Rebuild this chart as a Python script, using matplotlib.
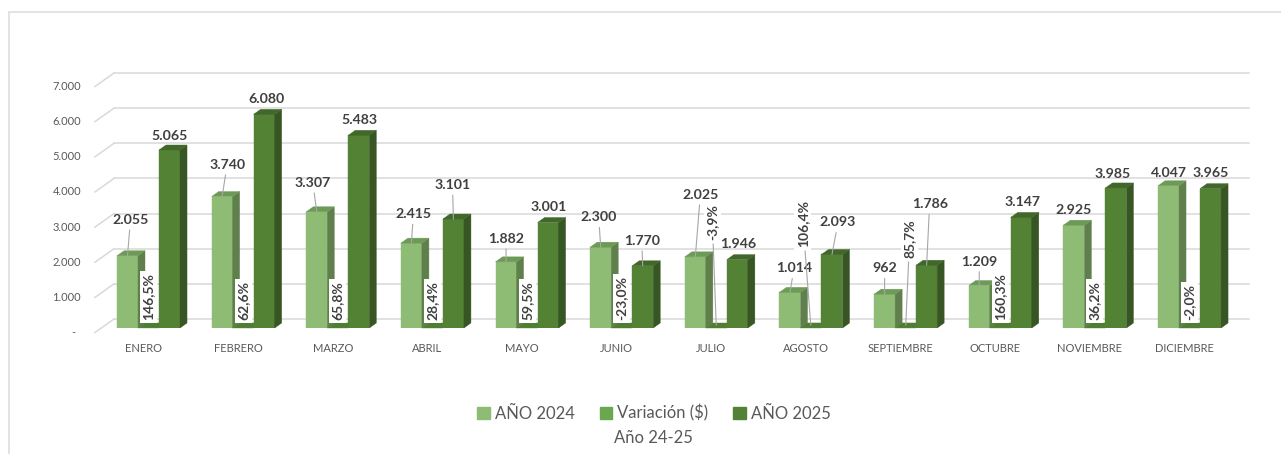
import matplotlib
matplotlib.use("Agg")
import matplotlib.pyplot as plt
from matplotlib.patches import Polygon, Rectangle, Patch
from matplotlib.lines import Line2D
from matplotlib.transforms import IdentityTransform

plt.rcParams['font.family'] = ['Lato', 'DejaVu Sans']

# ---------------- data ----------------
months = ["ENERO", "FEBRERO", "MARZO", "ABRIL", "MAYO", "JUNIO", "JULIO",
          "AGOSTO", "SEPTIEMBRE", "OCTUBRE", "NOVIEMBRE", "DICIEMBRE"]
anio_2024 = [2055, 3740, 3307, 2415, 1882, 2300, 2025, 1014, 962, 1209, 2925, 4047]
anio_2025 = [5065, 6080, 5483, 3101, 3001, 1770, 1946, 2093, 1786, 3147, 3985, 3965]
variacion = [1.465, 0.626, 0.658, 0.284, 0.595, -0.230, -0.039, 1.064, 0.857, 1.603, 0.362, -0.020]
y_ticks = [0, 1000, 2000, 3000, 4000, 5000, 6000, 7000]
series_names = ["AÑO 2024", "Variación ($)", "AÑO 2025"]
axis_title = "Año 24-25"

# ---------------- style / layout ----------------
W, H = 1281, 454
C_LIGHT = ('#8FBC75', '#5F7F4C', '#6E9A57')     # front, side, top
C_DARK = ('#548235', '#375623', '#41682A')
C_VAR_TOP = '#4F7D32'
C_VAR_LEG = '#6AA84F'
GRID = '#D9D9D9'
TXT = '#595959'
LBL = '#404040'
DEPTH = (7, 5)          # bar depth in pixels (right, up)
BW = 0.222              # bar width in category units

# label offsets in pixels (dx, up) relative to bar top centre
off_2024 = [(3, 36), (5, 32), (-4, 29), (2, 29), (0, 23), (-2, 30), (5, 62),
            (4, 24), (0, 26), (0, 24), (0, 15), (0, 13)]
off_2025 = [(0, 14), (2, 15), (1, 15), (-1, 34), (1, 16), (-1, 25), (1, 16),
            (6, 32), (3, 61), (1, 15), (-3, 14), (0, 16)]
off_var = [(0, 8)] * 12
off_var[6] = (-4, 88)
off_var[7] = (-8, 81)
off_var[8] = (4, 70)

fig = plt.figure(figsize=(W / 100, H / 100), dpi=100)
fig.patch.set_facecolor('white')
ax = fig.add_axes([95 / W, (H - 328) / H, 1154 / W, 246 / H])
x0 = -(148.5 - 95) / 94.64
ax.set_xlim(x0, x0 + 1154 / 94.64)
ax.set_ylim(0, 7000)
ax.axis('off')
T = ax.transData
ID = IdentityTransform()

# outer chart border
fig.add_artist(Rectangle((9 / W, -0.1), 1.5, 1 - 12 / H + 0.1, transform=fig.transFigure,
                         fill=False, ec='#E3E3E3', lw=1.4))

# back wall gridlines + slanted front ticks
for t in y_ticks:
    px, py = T.transform((x0, t))
    ax.add_line(Line2D([px + 19, 1249], [py + 9, py + 9], transform=ID, color=GRID,
                       lw=1.1, zorder=1, clip_on=False))
    ax.add_line(Line2D([px, px + 19], [py - 4.5, py + 9], transform=ID, color=GRID,
                       lw=1.1, zorder=1, clip_on=False))
    lab = "-" if t == 0 else f"{t:,}".replace(",", ".")
    if t == 0:
        ax.annotate(lab, xy=(x0, t), xytext=(-22, -4.5), textcoords='offset pixels',
                    ha='center', va='center', fontsize=8, color=TXT)
    else:
        ax.annotate(lab, xy=(x0, t), xytext=(-14, -4.5), textcoords='offset pixels',
                    ha='right', va='center', fontsize=8, color=TXT)


def faces(xl, xr, yb, yt, cols, z):
    dx, dy = DEPTH
    ax.add_patch(Polygon([(xr, yb), (xr + dx, yb + dy), (xr + dx, yt + dy), (xr, yt)],
                         closed=True, transform=ID, fc=cols[1], ec=cols[1], lw=0.3,
                         zorder=z, clip_on=False))
    ax.add_patch(Polygon([(xl, yt), (xr, yt), (xr + dx, yt + dy), (xl + dx, yt + dy)],
                         closed=True, transform=ID, fc=cols[2], ec=cols[2], lw=0.3,
                         zorder=z, clip_on=False))


xs = list(range(len(months)))
ax.bar([x - BW for x in xs], anio_2024, BW, color=C_LIGHT[0], ec=C_LIGHT[0], lw=0.3, zorder=2)
ax.bar(xs, variacion, BW, color=C_VAR_TOP, lw=0, zorder=2)
ax.bar([x + BW for x in xs], anio_2025, BW, color=C_DARK[0], ec=C_DARK[0], lw=0.3, zorder=3)

for i in xs:
    # light bar 3D faces
    xl, yb = T.transform((i - 1.5 * BW, 0))
    xr, yt = T.transform((i - 0.5 * BW, anio_2024[i]))
    faces(xl, xr, yb, yt, C_LIGHT, 2)
    # flat variation bar top face
    xl, yb = T.transform((i - 0.5 * BW, 0))
    xr, yt = T.transform((i + 0.5 * BW, max(variacion[i], 0)))
    ax.add_patch(Polygon([(xl, yt), (xr, yt), (xr + DEPTH[0], yt + DEPTH[1]),
                          (xl + DEPTH[0], yt + DEPTH[1])], closed=True, transform=ID,
                         fc=C_VAR_TOP, ec=C_VAR_TOP, lw=0.3, zorder=2, clip_on=False))
    # dark bar 3D faces
    xl, yb = T.transform((i + 0.5 * BW, 0))
    xr, yt = T.transform((i + 1.5 * BW, anio_2025[i]))
    faces(xl, xr, yb, yt, C_DARK, 3)

    # month label
    ax.annotate(months[i], xy=(i, 0), xytext=(-5, -21), textcoords='offset pixels',
                ha='center', va='center', fontsize=8, color=TXT)

    # value labels
    for vals, offs, xc in ((anio_2024, off_2024, i - BW), (anio_2025, off_2025, i + BW)):
        dx, up = offs[i]
        txt = f"{vals[i]:,}".replace(",", ".")
        arrow = dict(arrowstyle='-', color='#A6A6A6', lw=0.8, shrinkA=1, shrinkB=0) if up >= 20 else None
        ax.annotate(txt, xy=(xc, vals[i]), xytext=(dx, up), textcoords='offset pixels',
                    ha='center', va='center', fontsize=10.2, fontweight='bold', color=LBL,
                    arrowprops=arrow, zorder=6)

    # percentage labels
    dx, up = off_var[i]
    ptxt = f"{variacion[i] * 100:.1f}%".replace(".", ",")
    arrow = dict(arrowstyle='-', color='#A6A6A6', lw=0.8, shrinkA=1, shrinkB=2) if up > 20 else None
    ax.annotate(ptxt, xy=(i, 0), xytext=(dx, up), textcoords='offset pixels',
                ha='center', va='bottom', rotation=90, fontsize=10, fontweight='bold',
                color=LBL, arrowprops=arrow, zorder=7,
                bbox=dict(boxstyle='square,pad=0.18', fc='white', ec='none'))

# legend
handles = [Patch(color=C_LIGHT[0]), Patch(color=C_VAR_LEG), Patch(color=C_DARK[0])]
leg = fig.legend(handles, series_names, loc='center', bbox_to_anchor=(654 / W, 1 - 413 / H),
                 ncol=3, frameon=False, fontsize=12, handlelength=0.75, handleheight=0.75,
                 handletextpad=0.3, columnspacing=1.5, borderaxespad=0)
for t in leg.get_texts():
    t.set_color(TXT)

fig.text(653 / W, 1 - 438 / H, axis_title, ha='center', va='center', fontsize=12, color=TXT)

fig.savefig("out.png", dpi=100, facecolor='white')
